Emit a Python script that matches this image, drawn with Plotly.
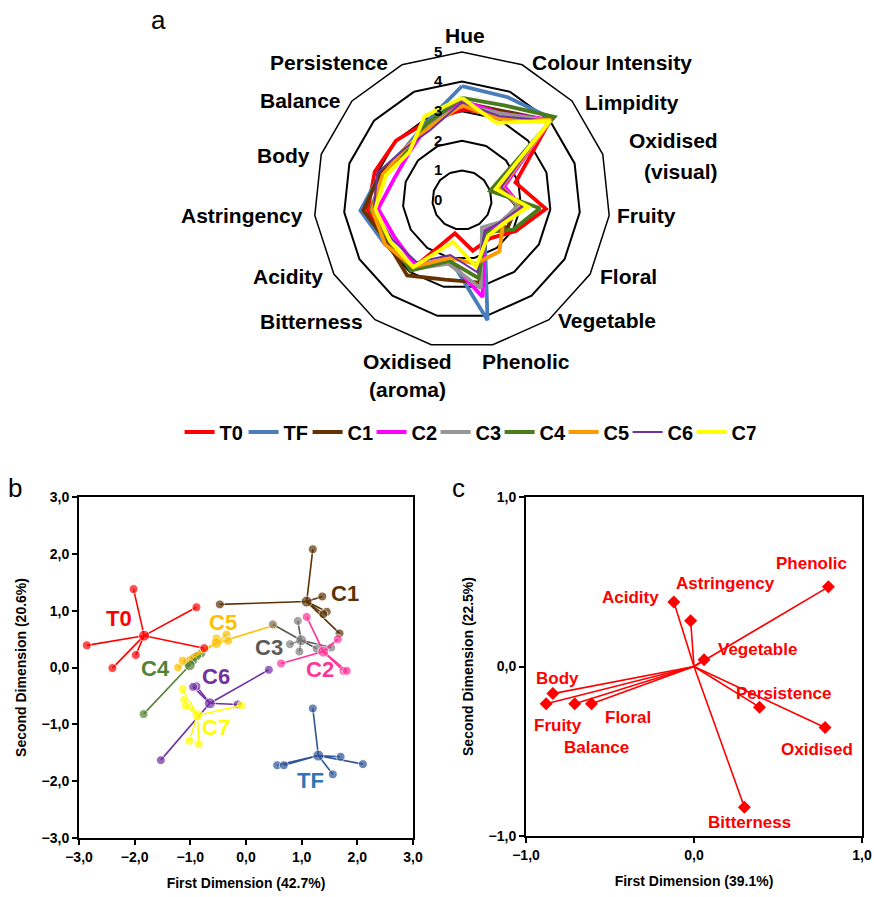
import plotly.graph_objects as go

# ---------------- data: panel a (sensory profile) ----------------
attributes = ["Hue", "Colour Intensity", "Limpidity", "Oxidised (visual)", "Fruity", "Floral",
              "Vegetable", "Phenolic", "Oxidised (aroma)", "Bitterness", "Acidity",
              "Astringency", "Body", "Balance", "Persistence"]
series_names = ["T0", "TF", "C1", "C2", "C3", "C4", "C5", "C6", "C7"]
T0_scores = [3.05, 3.2, 4.0, 1.9, 2.85, 2.1, 1.6, 1.75, 1.15, 2.9, 2.9, 3.2, 3.1, 3.0, 2.9]
TF_scores = [3.85, 3.8, 4.1, 1.3, 1.9, 1.6, 1.3, 4.15, 2.0, 2.8, 3.0, 3.45, 2.9, 2.6, 2.9]
C1_scores = [3.3, 3.3, 4.0, 1.4, 1.85, 1.8, 1.4, 2.85, 2.75, 3.15, 2.9, 3.35, 2.9, 2.5, 2.8]
C2_scores = [3.35, 3.2, 4.05, 1.5, 2.0, 1.5, 1.3, 3.35, 2.1, 2.7, 2.6, 2.85, 2.4, 2.4, 2.8]
C3_scores = [3.2, 3.2, 4.0, 1.4, 1.9, 1.5, 1.15, 3.05, 2.2, 2.9, 2.8, 3.1, 2.8, 2.5, 2.8]
C4_scores = [3.45, 3.5, 4.2, 1.0, 2.65, 2.0, 1.35, 2.7, 2.1, 2.95, 2.8, 3.1, 2.75, 2.5, 2.85]
C5_scores = [3.2, 3.0, 4.05, 1.4, 2.05, 1.6, 2.15, 2.2, 2.0, 2.8, 3.0, 3.05, 2.8, 2.6, 2.7]
C6_scores = [3.3, 3.1, 4.0, 1.4, 2.05, 1.5, 1.3, 2.5, 1.9, 2.6, 2.7, 3.0, 3.0, 2.6, 2.6]
C7_scores = [3.45, 2.85, 4.0, 1.2, 2.25, 1.6, 1.5, 2.3, 1.45, 2.8, 2.8, 2.95, 2.7, 2.4, 3.1]
radial_ticks = [0, 1, 2, 3, 4, 5]

# ---------------- data: panel b (sample scores) ----------------
T0_centroid = (-1.83, 0.56)
T0_x = [-2.02, -0.89, -2.86, -2.40, -1.98, -0.75]
T0_y = [1.38, 1.06, 0.39, -0.01, 0.22, 0.34]
TF_centroid = (1.30, -1.55)
TF_x = [1.20, 1.70, 2.10, 1.56, 0.56, 0.68]
TF_y = [-0.72, -1.57, -1.70, -1.88, -1.72, -1.72]
C1_centroid = (1.09, 1.16)
C1_x = [1.20, 1.37, 1.45, 1.39, 1.68, -0.47]
C1_y = [2.08, 1.25, 0.98, 0.94, 0.60, 1.11]
C2_centroid = (1.39, 0.28)
C2_x = [1.09, 1.65, 1.75, 1.81, 0.63]
C2_y = [0.89, 0.50, -0.06, -0.06, 0.07]
C3_centroid = (0.99, 0.48)
C3_x = [0.93, 0.79, 0.96, 1.27, 1.53, 0.48]
C3_y = [0.82, 0.41, 0.28, 0.33, 0.35, 0.76]
C4_centroid = (-1.01, 0.04)
C4_x = [-1.84, -0.92, -0.80, -0.88, -1.05, -0.95]
C4_y = [-0.82, 0.18, 0.25, 0.20, 0.08, 0.12]
C5_centroid = (-0.53, 0.43)
C5_x = [-1.22, -1.14, -0.35, -0.32, -0.53, 0.50]
C5_y = [0.00, 0.12, 0.58, 0.47, 0.51, 0.74]
C6_centroid = (-0.65, -0.63)
C6_x = [-0.89, -0.95, 0.41, -1.53, -0.15]
C6_y = [-0.33, -0.34, -0.04, -1.63, -0.65]
C7_centroid = (-0.87, -0.84)
C7_x = [-1.14, -1.11, -1.08, -1.02, -0.85, -0.08]
C7_y = [-0.38, -0.57, -0.68, -1.29, -1.35, -0.67]
score_ticks = [-3, -2, -1, 0, 1, 2, 3]

# ---------------- data: panel c (loadings) ----------------
loading_names = ["Phenolic", "Acidity", "Astringency", "Vegetable", "Body", "Fruity",
                 "Balance", "Floral", "Persistence", "Oxidised", "Bitterness"]
loading_x = [0.80, -0.12, -0.02, 0.06, -0.84, -0.88, -0.71, -0.61, 0.39, 0.78, 0.30]
loading_y = [0.47, 0.38, 0.27, 0.04, -0.16, -0.22, -0.22, -0.22, -0.24, -0.36, -0.83]
loading_ticks = [-1, 0, 1]

# ---------------- styles ----------------
W, H = 874, 897
FONT = "Liberation Sans, Arial, sans-serif"
radar_colors = ["#FF0000", "#4A7EBB", "#663300", "#FF00FF", "#969696",
                "#4A7A1E", "#FF9900", "#7030A0", "#FFFF00"]
radar_widths = [3.8, 3.8, 3.8, 3.8, 3.8, 3.8, 3.8, 2, 3.8]
score_colors = {"T0": "#FF0000", "TF": "#2F5597", "C1": "#5C3306", "C2": "#FF3399",
                "C3": "#808080", "C4": "#548235", "C5": "#FFC000", "C6": "#7030A0",
                "C7": "#FFFF00"}
score_line_colors = dict(score_colors, C3="#595959")
score_label_colors = dict(score_colors, C3="#595959", TF="#2E75B6")


def px(x):
    return x / W


def py(y):
    return 1 - y / H


fig = go.Figure()

# ---- panel a ----
all_scores = [T0_scores, TF_scores, C1_scores, C2_scores, C3_scores,
              C4_scores, C5_scores, C6_scores, C7_scores]
for name, vals, col, lw in zip(series_names, all_scores, radar_colors, radar_widths):
    fig.add_trace(go.Scatterpolar(
        r=vals + vals[:1], theta=attributes + attributes[:1], mode="lines",
        line=dict(color=col, width=lw), name=name, showlegend=True))

# ---- panel b ----
groups = {
    "T0": (T0_centroid, T0_x, T0_y), "TF": (TF_centroid, TF_x, TF_y),
    "C1": (C1_centroid, C1_x, C1_y), "C2": (C2_centroid, C2_x, C2_y),
    "C3": (C3_centroid, C3_x, C3_y), "C4": (C4_centroid, C4_x, C4_y),
    "C5": (C5_centroid, C5_x, C5_y), "C6": (C6_centroid, C6_x, C6_y),
    "C7": (C7_centroid, C7_x, C7_y),
}
label_pos = {"T0": (-2.28, 0.87), "C1": (1.78, 1.31), "C5": (-0.41, 0.80), "C3": (0.41, 0.36),
             "C2": (1.33, -0.04), "C4": (-1.63, -0.01), "C6": (-0.54, -0.15),
             "C7": (-0.54, -1.06), "TF": (1.15, -1.98)}
for g in ["C4", "C5", "T0", "C1", "C3", "C2", "TF", "C6", "C7"]:
    (cx, cy), xs, ys = groups[g]
    lx, ly = [], []
    for x, y in zip(xs, ys):
        lx += [cx, x, None]
        ly += [cy, y, None]
    fig.add_trace(go.Scatter(x=lx, y=ly, mode="lines", xaxis="x", yaxis="y",
                             line=dict(color=score_line_colors[g], width=1.6),
                             showlegend=False, hoverinfo="skip"))
    fig.add_trace(go.Scatter(x=xs + [cx], y=ys + [cy], mode="markers", xaxis="x", yaxis="y",
                             marker=dict(color=score_colors[g], size=[9] * len(xs) + [11]),
                             showlegend=False, name=g))

# ---- panel c ----
sx, sy = [], []
for x, y in zip(loading_x, loading_y):
    sx += [0, x, None]
    sy += [0, y, None]
fig.add_trace(go.Scatter(x=sx, y=sy, mode="lines", xaxis="x2", yaxis="y2",
                         line=dict(color="#FF0000", width=1.6), showlegend=False,
                         hoverinfo="skip"))
fig.add_trace(go.Scatter(x=loading_x, y=loading_y, mode="markers", xaxis="x2", yaxis="y2",
                         marker=dict(color="#FF0000", symbol="diamond", size=10),
                         text=loading_names, showlegend=False))

annotations = []
# radar category labels
radar_labels = [
    ("Hue", 465, 35, "center"), ("Colour Intensity", 530, 63, "left"),
    ("Limpidity", 583, 102, "left"), ("Oxidised", 720, 140, "right"),
    ("(visual)", 720, 172, "right"), ("Fruity", 615, 215, "left"),
    ("Floral", 598, 276, "left"), ("Vegetable", 556, 320, "left"),
    ("Phenolic", 480, 361, "left"), ("Oxidised", 407, 361, "center"),
    ("(aroma)", 407, 390, "center"), ("Bitterness", 365, 321, "right"),
    ("Acidity", 325, 276, "right"), ("Astringency", 305, 215, "right"),
    ("Body", 312, 155, "right"), ("Balance", 343, 100, "right"),
    ("Persistence", 390, 63, "right"),
]
for t, x, y, anc in radar_labels:
    annotations.append(dict(text=t, x=px(x), y=py(y), xref="paper", yref="paper",
                            xanchor=anc, yanchor="middle", showarrow=False,
                            font=dict(family=FONT, size=21, color="black", weight="bold")))
# panel b labels
for g, (x, y) in label_pos.items():
    annotations.append(dict(text=g, x=x, y=y, xref="x", yref="y", showarrow=False,
                            font=dict(family=FONT, size=22, color=score_label_colors[g],
                                      weight="bold")))
# panel c labels
loading_label_pos = {"Phenolic": (0.70, 0.61), "Astringency": (0.19, 0.49),
                     "Acidity": (-0.38, 0.41), "Vegetable": (0.38, 0.10),
                     "Body": (-0.81, -0.07), "Fruity": (-0.81, -0.35),
                     "Floral": (-0.39, -0.30), "Balance": (-0.58, -0.48),
                     "Persistence": (0.53, -0.16), "Oxidised": (0.73, -0.49),
                     "Bitterness": (0.33, -0.92)}
for n in loading_names:
    x, y = loading_label_pos[n]
    annotations.append(dict(text=n, x=x, y=y, xref="x2", yref="y2", showarrow=False,
                            font=dict(family=FONT, size=17, color="#FF0000", weight="bold")))
# panel letters
for t, x, y in [("a", 158, 20), ("b", 15, 488), ("c", 458, 488)]:
    annotations.append(dict(text=t, x=px(x), y=py(y), xref="paper", yref="paper",
                            showarrow=False, xanchor="center", yanchor="middle",
                            font=dict(family=FONT, size=26, color="black")))

axis_common = dict(showline=True, linecolor="black", linewidth=2, mirror=True,
                   ticks="outside", ticklen=5, tickwidth=2, tickcolor="black",
                   showgrid=False, zeroline=False, tickformat=".1f", automargin=False,
                   tickfont=dict(family=FONT, size=14, color="black", weight="bold"),
                   fixedrange=True)
title_font = dict(family=FONT, size=14, color="black", weight="bold")

fig.update_layout(
    template="none",
    width=W, height=H, margin=dict(l=0, r=0, t=0, b=0, pad=0, autoexpand=False),
    paper_bgcolor="white", plot_bgcolor="white", separators=",.",
    font=dict(family=FONT, color="black"),
    polar=dict(
        domain=dict(x=[px(462 - 148), px(462 + 148)], y=[py(200 + 148), py(200 - 148)]),
        bgcolor="white", gridshape="linear",
        angularaxis=dict(direction="clockwise", rotation=90, showticklabels=False,
                         ticks="", showgrid=False, showline=True, linecolor="black",
                         linewidth=1.5),
        radialaxis=dict(range=[0, 5], tickvals=radial_ticks, showline=False,
                        ticks="outside", ticklen=14, tickcolor="rgba(0,0,0,0)",
                        angle=90, side="counterclockwise", tickangle=90,
                        gridcolor="black", gridwidth=1.5,
                        tickfont=dict(family=FONT, size=15, color="black", weight="bold")),
    ),
    xaxis=dict(domain=[px(79), px(413)], range=[-3, 3], tickvals=score_ticks,
               anchor="y", title=dict(text="First Dimension (42.7%)", font=title_font,
                                      standoff=14), **axis_common),
    yaxis=dict(domain=[py(838), py(497)], range=[-3, 3], tickvals=score_ticks,
               anchor="x", title=dict(text="Second Dimension (20.6%)", font=title_font,
                                      standoff=12), **axis_common),
    xaxis2=dict(domain=[px(526), px(862)], range=[-1, 1], tickvals=loading_ticks,
                anchor="y2", title=dict(text="First Dimension (39.1%)", font=title_font,
                                        standoff=14), **axis_common),
    yaxis2=dict(domain=[py(836), py(497)], range=[-1, 1], tickvals=loading_ticks,
                anchor="x2", title=dict(text="Second Dimension (22.5%)", font=title_font,
                                        standoff=12), **axis_common),
    legend=dict(orientation="h", x=0.535, xanchor="center", y=py(432), yanchor="middle",
                font=dict(family=FONT, size=20, color="black", weight="bold"),
                itemwidth=30, entrywidth=19, tracegroupgap=0, bgcolor="rgba(0,0,0,0)"),
    annotations=annotations,
    showlegend=True,
)

fig.write_html("out.html", config={"displayModeBar": False},
               post_script="document.body.style.margin='0px';")
